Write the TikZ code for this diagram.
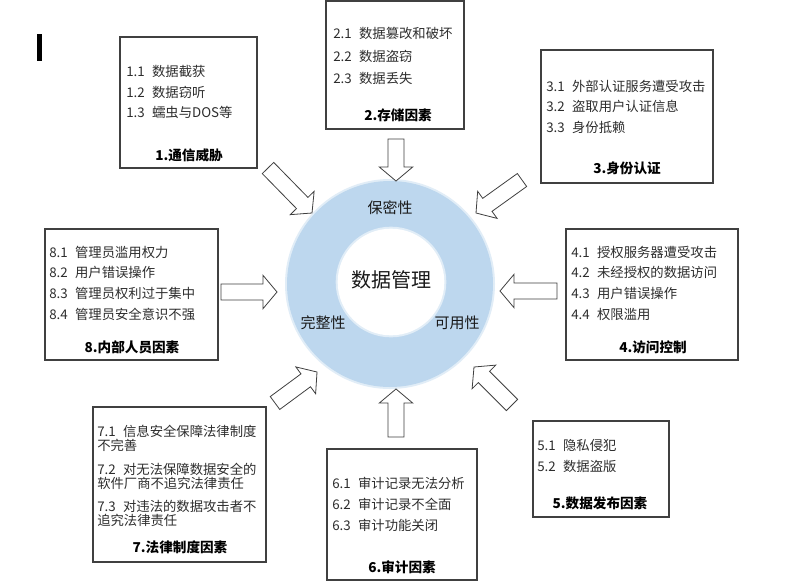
\documentclass[tikz,border=0pt]{standalone}
\usepackage{fontspec}
\setmainfont{Noto Sans CJK SC}
\usetikzlibrary{calc}
\definecolor{ringblue}{RGB}{189,215,238}
\definecolor{edgegray}{RGB}{64,64,64}
\definecolor{itemgray}{RGB}{45,45,45}
\tikzset{
  box/.style={draw=edgegray, line width=0.8pt, fill=white, inner sep=0pt, rectangle},
  item/.style={anchor=west, inner sep=0pt, text height=8.6pt, text depth=1.2pt,
    font=\fontsize{10pt}{12pt}\selectfont, text=itemgray},
  boxtitle/.style={inner sep=0pt, text height=8.8pt, text depth=1.2pt,
    font=\fontsize{10.2pt}{12pt}\selectfont\bfseries, text=black},
  ringlabel/.style={inner sep=0pt, font=\fontsize{11.25pt}{13pt}\selectfont, text=black!90},
  barrow/.style={draw=edgegray, line width=0.6pt, fill=white, line join=miter},
}
\newcommand\blockarrow[2]{%
  \coordinate (bh) at ($(#2)!10.5pt!(#1)$);
  \draw[barrow] ($(#1)!6pt!90:(#2)$) -- ($(bh)!6pt!90:(#2)$) -- ($(bh)!12.5pt!90:(#2)$)
    -- (#2) -- ($(bh)!12.5pt!-90:(#2)$) -- ($(bh)!6pt!-90:(#2)$) -- ($(#1)!6pt!-90:(#2)$) -- cycle;
}
\newcommand\nn[1]{#1\hspace{5.5pt}}
\begin{document}
\begin{tikzpicture}[x=0.75pt,y=-0.75pt]
\useasboundingbox (0,0) rectangle (791,586);
\fill[white] (0,0) rectangle (791,586);

% cursor mark
\fill[black] (37,34) rectangle (42,61);

% central ring
\node[circle, fill=ringblue!45, inner sep=0pt, minimum size=157.5pt] (halo) at (390,284) {};
\node[circle, fill=ringblue, inner sep=0pt, minimum size=154.5pt] (ring) at (390,284) {};
\node[circle, fill=ringblue!45, inner sep=0pt, minimum size=83pt] (corehalo) at (391,282) {};
\node[circle, fill=white, inner sep=0pt, minimum size=80pt] (core) at (391,282) {};
\node[inner sep=0pt, font=\fontsize{15pt}{17pt}\selectfont, text=black!90] (dm) at (391,280) {数据管理};
\node[ringlabel] (bm) at (390,208) {保密性};
\node[ringlabel] (wz) at (323,323) {完整性};
\node[ringlabel] (ky) at (457,323) {可用性};

% box 1
\node[box, minimum width=102.75pt, minimum height=98.25pt] (b1) at (188.5,102.5) {};
\node[item] (t11) at (126,72) {\nn{1.1}数据截获};
\node[item] (t12) at (126,93) {\nn{1.2}数据窃听};
\node[item] (t13) at (126,113) {\nn{1.3}蠕虫与DOS等};
\node[boxtitle] (h1) at (189,155) {1.通信威胁};

% box 2
\node[box, minimum width=103.5pt, minimum height=96pt] (b2) at (395,65) {};
\node[item] (t21) at (333,34) {\nn{2.1}数据篡改和破坏};
\node[item] (t22) at (333,57) {\nn{2.2}数据盗窃};
\node[item] (t23) at (333,79) {\nn{2.3}数据丢失};
\node[boxtitle] (h2) at (398,115) {2.存储因素};

% box 3
\node[box, minimum width=129pt, minimum height=99.75pt] (b3) at (627,116.5) {};
\node[item] (t31) at (546,87) {\nn{3.1}外部认证服务遭受攻击};
\node[item] (t32) at (546,107) {\nn{3.2}盗取用户认证信息};
\node[item] (t33) at (546,128) {\nn{3.3}身份抵赖};
\node[boxtitle] (h3) at (627,168) {3.身份认证};

% box 8
\node[box, minimum width=129.75pt, minimum height=98.25pt] (b8) at (131.5,294.5) {};
\node[item] (t81) at (49,253) {\nn{8.1}管理员滥用权力};
\node[item] (t82) at (49,273) {\nn{8.2}用户错误操作};
\node[item] (t83) at (49,294) {\nn{8.3}管理员权利过于集中};
\node[item] (t84) at (49,315) {\nn{8.4}管理员安全意识不强};
\node[boxtitle] (h8) at (132,347) {8.内部人员因素};

% box 4
\node[box, minimum width=129pt, minimum height=98.25pt] (b4) at (652,294.5) {};
\node[item] (t41) at (571,253) {\nn{4.1}授权服务器遭受攻击};
\node[item] (t42) at (571,273) {\nn{4.2}未经授权的数据访问};
\node[item] (t43) at (571,294) {\nn{4.3}用户错误操作};
\node[item] (t44) at (571,315) {\nn{4.4}权限滥用};
\node[boxtitle] (h4) at (653,347) {4.访问控制};

% box 7
\node[box, minimum width=129.75pt, minimum height=116.25pt] (b7) at (179.5,484.5) {};
\node[item] (t71a) at (97,432) {\nn{7.1}信息安全保障法律制度};
\node[item] (t71b) at (97,445.5) {不完善};
\node[item] (t72a) at (97,470) {\nn{7.2}对无法保障数据安全的};
\node[item] (t72b) at (97,483.5) {软件厂商不追究法律责任};
\node[item] (t73a) at (97,507) {\nn{7.3}对违法的数据攻击者不};
\node[item] (t73b) at (97,520.5) {追究法律责任};
\node[boxtitle] (h7) at (180,547) {7.法律制度因素};

% box 6
\node[box, minimum width=112.5pt, minimum height=98.25pt] (b6) at (402,514.5) {};
\node[item] (t61) at (332,484) {\nn{6.1}审计记录无法分析};
\node[item] (t62) at (332,505) {\nn{6.2}审计记录不全面};
\node[item] (t63) at (332,526) {\nn{6.3}审计功能关闭};
\node[boxtitle] (h6) at (402,567) {6.审计因素};

% box 5
\node[box, minimum width=102pt, minimum height=72pt] (b5) at (601,469) {};
\node[item] (t51) at (537,446) {\nn{5.1}隐私侵犯};
\node[item] (t52) at (537,467) {\nn{5.2}数据盗版};
\node[boxtitle] (h5) at (600,503) {5.数据发布因素};

% block arrows
\coordinate (a1s) at (268,168); \coordinate (a1e) at (312,213);
\coordinate (a2s) at (396,139); \coordinate (a2e) at (396,181);
\coordinate (a3s) at (522,180); \coordinate (a3e) at (476,213);
\coordinate (a4s) at (557,291); \coordinate (a4e) at (500,291);
\coordinate (a5s) at (512,405); \coordinate (a5e) at (474,367);
\coordinate (a6s) at (396,437); \coordinate (a6e) at (396,389);
\coordinate (a7s) at (275,403); \coordinate (a7e) at (317,372);
\coordinate (a8s) at (221,292); \coordinate (a8e) at (277,292);
\blockarrow{a1s}{a1e}
\blockarrow{a2s}{a2e}
\blockarrow{a3s}{a3e}
\blockarrow{a4s}{a4e}
\blockarrow{a5s}{a5e}
\blockarrow{a6s}{a6e}
\blockarrow{a7s}{a7e}
\blockarrow{a8s}{a8e}
\end{tikzpicture}
\end{document}
